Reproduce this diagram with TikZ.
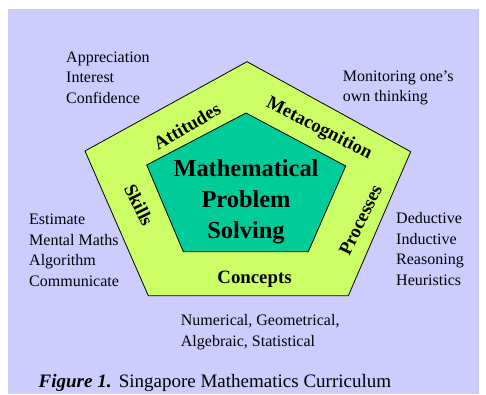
\documentclass[tikz,border=0pt]{standalone}
\usepackage{fontspec}
\setmainfont{Liberation Serif}
\definecolor{lavender}{HTML}{CCCCFF}
\definecolor{limeband}{HTML}{CCFF66}
\definecolor{seagreen}{HTML}{00CC99}
\tikzset{
  pentagon line/.style={draw=black, line width=0.8pt, line join=miter},
  side label/.style={font=\fontsize{18.8}{22}\selectfont\bfseries, inner sep=0pt},
  aspect list/.style={font=\fontsize{16}{20.5}\selectfont, align=left, anchor=base west, inner sep=0pt}
}

\begin{document}
\begin{tikzpicture}[x=1pt,y=-1pt]
	%% frame and background
	\useasboundingbox (0,0) rectangle (486,394);
	\fill[lavender] (8,9) rectangle (479,394);

	%% outer band (the five components)
	\coordinate (OT) at (247,61.7);
	\coordinate (OR) at (410.7,151.7);
	\coordinate (OBR) at (348.3,295.7);
	\coordinate (OBL) at (148.3,295.7);
	\coordinate (OL) at (85,151);
	\draw[pentagon line, fill=limeband] (OT) -- (OR) -- (OBR) -- (OBL) -- (OL) -- cycle;

	%% inner pentagon
	\coordinate (IT) at (246,113);
	\coordinate (IR) at (345.7,166);
	\coordinate (IBR) at (308.3,251.7);
	\coordinate (IBL) at (183.3,251.7);
	\coordinate (IL) at (146.7,165);
	\draw[pentagon line, fill=seagreen] (IT) -- (IR) -- (IBR) -- (IBL) -- (IL) -- cycle;

	% base of a multi-line node = baseline of its last line
	\node[font=\fontsize{24.4}{30.8}\selectfont\bfseries, align=center, anchor=base, inner sep=0pt] (mps) at (246,238.3) {Mathematical\\Problem\\Solving};

	%labelling the sides
	\node[side label, rotate=30] (attitudes) at (187,126) {Attitudes};
	\node[side label, rotate=-27] (metacog) at (319,129) {Metacognition};
	\node[side label, rotate=-64] (skills) at (139,205) {Skills};
	\node[side label, rotate=64] (processes) at (360.5,220) {Processes};
	\node[side label, anchor=base] (concepts) at (254.5,283.3) {Concepts};

	%lists round the pentagon
	\node[aspect list] (attlist) at (66,103) {Appreciation\\Interest\\Confidence};
	\node[aspect list] (metalist) at (342.7,101.7) {Monitoring one’s\\own thinking};
	\node[aspect list] (skilllist) at (29,286) {Estimate\\Mental Maths\\Algorithm\\Communicate};
	\node[aspect list] (proclist) at (396,285) {Deductive\\Inductive\\Reasoning\\Heuristics};
	\node[aspect list] (conclist) at (180.7,346) {Numerical, Geometrical,\\Algebraic, Statistical};

	\node[anchor=base west, inner sep=0pt, font=\fontsize{19}{22}\selectfont] (caption) at (38.5,387.3) {\textbf{\textit{Figure 1.}}\hspace{0.05em} Singapore Mathematics Curriculum};
\end{tikzpicture}
\end{document}
